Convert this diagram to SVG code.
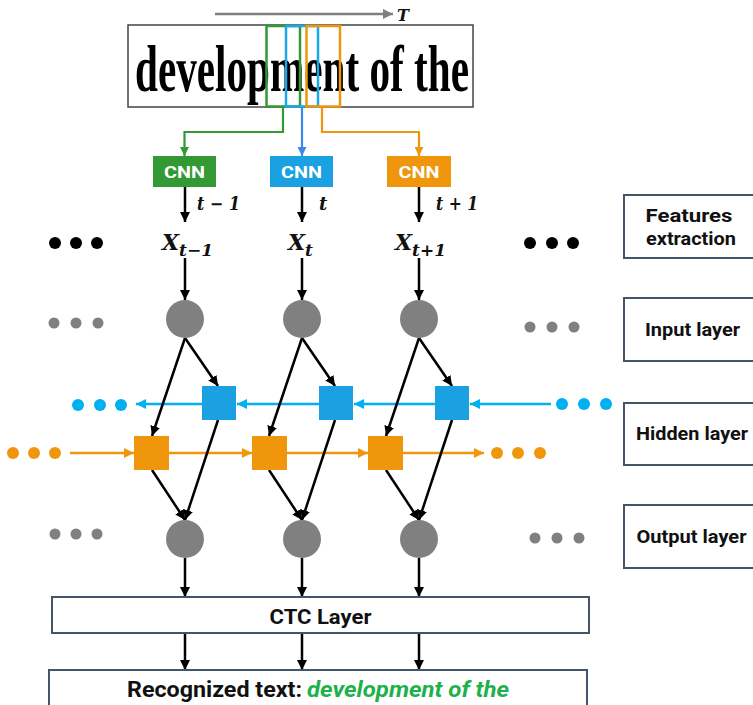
<svg xmlns="http://www.w3.org/2000/svg" width="753" height="705" viewBox="0 0 753 705">
<style>
.blk{stroke:#000;stroke-width:2.5;fill:none;marker-end:url(#ab)}
.bl{stroke:#00b0f0;stroke-width:2.5;fill:none;marker-end:url(#abl)}
.or{stroke:#f0960c;stroke-width:2.5;fill:none;marker-end:url(#aor)}
.lbl{fill:#fff;stroke:#44546a;stroke-width:2}
.sans{font-family:Roboto,"Liberation Sans",sans-serif;font-weight:bold}
.rt{font-family:Roboto,"Liberation Sans",sans-serif;font-weight:bold;font-size:19px;fill:#111}
.math{font-family:"DejaVu Serif","Liberation Serif",serif;font-weight:bold;font-style:italic;fill:#111}
.cnn{font-family:Roboto,"Liberation Sans",sans-serif;font-weight:bold;font-size:17px;fill:#fff}
.gc{fill:#808080}
.bsq{fill:#1ba1e2}
.osq{fill:#f0960c}
</style>
<defs>
<marker id="ab" viewBox="0 0 10 10" refX="10" refY="5" markerWidth="10" markerHeight="10" markerUnits="userSpaceOnUse" orient="auto"><path d="M0,0 L10,5 L0,10 z" fill="#000"/></marker>
<marker id="abl" viewBox="0 0 10 10" refX="10" refY="5" markerWidth="10" markerHeight="10" markerUnits="userSpaceOnUse" orient="auto"><path d="M0,0 L10,5 L0,10 z" fill="#00b0f0"/></marker>
<marker id="aor" viewBox="0 0 10 10" refX="10" refY="5" markerWidth="10" markerHeight="10" markerUnits="userSpaceOnUse" orient="auto"><path d="M0,0 L10,5 L0,10 z" fill="#f0960c"/></marker>
<marker id="agr" viewBox="0 0 10 10" refX="10" refY="5" markerWidth="10" markerHeight="10" markerUnits="userSpaceOnUse" orient="auto"><path d="M0,0 L10,5 L0,10 z" fill="#808080"/></marker>
<marker id="agn" viewBox="0 0 10 10" refX="10" refY="5" markerWidth="9" markerHeight="9" markerUnits="userSpaceOnUse" orient="auto"><path d="M0,0 L10,5 L0,10 z" fill="#339933"/></marker>
<marker id="abu" viewBox="0 0 10 10" refX="10" refY="5" markerWidth="9" markerHeight="9" markerUnits="userSpaceOnUse" orient="auto"><path d="M0,0 L10,5 L0,10 z" fill="#3c86ee"/></marker>
<marker id="aog" viewBox="0 0 10 10" refX="10" refY="5" markerWidth="9" markerHeight="9" markerUnits="userSpaceOnUse" orient="auto"><path d="M0,0 L10,5 L0,10 z" fill="#f0960c"/></marker>
</defs>

<g id="time-axis">
<line x1="215" y1="14" x2="393" y2="14" stroke="#808080" stroke-width="2.5" marker-end="url(#agr)"/>
<text x="397" y="21" class="math" font-size="16">T</text>
</g>

<g id="input-image">
<rect x="128" y="25" width="345" height="82" fill="#fff" stroke="#444" stroke-width="1.5"/>
<text x="135" y="91" font-family="Liberation Serif,serif" font-weight="bold" font-size="66" textLength="334" lengthAdjust="spacingAndGlyphs" fill="#000">development of the</text>
<rect x="266.5" y="26" width="33.5" height="80.5" fill="none" stroke="#339933" stroke-width="2.5"/>
<rect x="286" y="26" width="32" height="80.5" fill="none" stroke="#1ea7e8" stroke-width="2.5"/>
<rect x="306.5" y="26" width="33.5" height="80.5" fill="none" stroke="#f0960c" stroke-width="2.5"/>
</g>

<g id="cnn1"><rect x="153" y="156" width="63" height="31" fill="#339933"/><text x="184.5" y="177.5" class="cnn" text-anchor="middle" textLength="41" lengthAdjust="spacingAndGlyphs">CNN</text></g>
<g id="cnn2"><rect x="270" y="156" width="63" height="31" fill="#1ba1e2"/><text x="301.5" y="177.5" class="cnn" text-anchor="middle" textLength="41" lengthAdjust="spacingAndGlyphs">CNN</text></g>
<g id="cnn3"><rect x="387" y="156" width="64" height="31" fill="#f0960c"/><text x="419" y="177.5" class="cnn" text-anchor="middle" textLength="41" lengthAdjust="spacingAndGlyphs">CNN</text></g>

<g id="labels-t">
<text x="197" y="210" class="math" font-size="18" textLength="43" lengthAdjust="spacingAndGlyphs">t − 1</text>
<text x="319" y="210" class="math" font-size="18">t</text>
<text x="436" y="210" class="math" font-size="18" textLength="42" lengthAdjust="spacingAndGlyphs">t + 1</text>
</g>

<g id="x1"><text x="162" y="250" class="math" font-size="22">X<tspan font-size="17" dy="6">t−1</tspan></text></g>
<g id="x2"><text x="288" y="250" class="math" font-size="22">X<tspan font-size="17" dy="6">t</tspan></text></g>
<g id="x3"><text x="395" y="250" class="math" font-size="22">X<tspan font-size="17" dy="6">t+1</tspan></text></g>

<g id="dots">
<circle cx="55" cy="243" r="6"/><circle cx="76" cy="243" r="6"/><circle cx="97" cy="243" r="6"/>
<circle cx="530" cy="243" r="6"/><circle cx="552" cy="243" r="6"/><circle cx="573" cy="243" r="6"/>
<g class="gc"><circle cx="54" cy="323" r="5.5"/><circle cx="76" cy="323" r="5.5"/><circle cx="98" cy="323" r="5.5"/>
<circle cx="530" cy="327" r="5.5"/><circle cx="552" cy="327" r="5.5"/><circle cx="574" cy="327" r="5.5"/>
<circle cx="55" cy="534" r="5.5"/><circle cx="76" cy="534" r="5.5"/><circle cx="97" cy="534" r="5.5"/>
<circle cx="535" cy="538" r="5.5"/><circle cx="557" cy="538" r="5.5"/><circle cx="579" cy="538" r="5.5"/></g>
<g fill="#00b0f0"><circle cx="78" cy="405" r="6"/><circle cx="100" cy="405" r="6"/><circle cx="121" cy="405" r="6"/>
<circle cx="562" cy="404" r="6"/><circle cx="584" cy="404" r="6"/><circle cx="606" cy="404" r="6"/></g>
<g fill="#f0960c"><circle cx="13" cy="453" r="6"/><circle cx="34" cy="453" r="6"/><circle cx="55" cy="453" r="6"/>
<circle cx="497" cy="453" r="6"/><circle cx="518" cy="453" r="6"/><circle cx="540" cy="453" r="6"/></g>
</g>

<g id="connectors">
<path d="M283,107 V132 H184.5 V156" fill="none" stroke="#339933" stroke-width="2.2" marker-end="url(#agn)"/>
<path d="M302,107 V156" fill="none" stroke="#3c86ee" stroke-width="2.2" marker-end="url(#abu)"/>
<path d="M322,107 V132 H419 V156" fill="none" stroke="#f0960c" stroke-width="2.2" marker-end="url(#aog)"/>
<line class="blk" x1="185" y1="187" x2="185" y2="222"/>
<line class="blk" x1="302" y1="187" x2="302" y2="222"/>
<line class="blk" x1="419" y1="187" x2="419" y2="222"/>
<line class="blk" x1="185" y1="258" x2="185" y2="300"/>
<line class="blk" x1="302" y1="258" x2="302" y2="300"/>
<line class="blk" x1="419" y1="258" x2="419" y2="300"/>
<line class="bl" x1="551" y1="404" x2="470" y2="404"/>
<line class="bl" x1="435" y1="404" x2="354" y2="404"/>
<line class="bl" x1="319" y1="404" x2="237" y2="404"/>
<line class="bl" x1="202" y1="404" x2="136" y2="404"/>
<line class="or" x1="70" y1="453" x2="134" y2="453"/>
<line class="or" x1="169" y1="453" x2="252" y2="453"/>
<line class="or" x1="287" y1="453" x2="368" y2="453"/>
<line class="or" x1="403" y1="453" x2="484" y2="453"/>
<line class="blk" x1="185" y1="338" x2="152" y2="436"/>
<line class="blk" x1="185" y1="338" x2="218" y2="386"/>
<line class="blk" x1="152" y1="470" x2="185" y2="520"/>
<line class="blk" x1="218" y1="420" x2="185" y2="520"/>
<line class="blk" x1="302" y1="338" x2="269" y2="436"/>
<line class="blk" x1="302" y1="338" x2="335" y2="386"/>
<line class="blk" x1="269" y1="470" x2="302" y2="520"/>
<line class="blk" x1="335" y1="420" x2="302" y2="520"/>
<line class="blk" x1="419" y1="338" x2="386" y2="436"/>
<line class="blk" x1="419" y1="338" x2="452" y2="386"/>
<line class="blk" x1="386" y1="470" x2="419" y2="520"/>
<line class="blk" x1="452" y1="420" x2="419" y2="520"/>
<line class="blk" x1="185" y1="558" x2="185" y2="597"/>
<line class="blk" x1="302" y1="558" x2="302" y2="597"/>
<line class="blk" x1="419" y1="558" x2="419" y2="597"/>
<line class="blk" x1="185" y1="633" x2="185" y2="670"/>
<line class="blk" x1="302" y1="633" x2="302" y2="670"/>
<line class="blk" x1="419" y1="633" x2="419" y2="670"/>
</g>

<g id="input-nodes" class="gc">
<circle cx="185" cy="319" r="19"/><circle cx="302" cy="319" r="19"/><circle cx="419" cy="319" r="19"/>
</g>
<g id="backward-nodes" class="bsq">
<rect x="202" y="386" width="34" height="34"/><rect x="319" y="386" width="34" height="34"/><rect x="435" y="386" width="34" height="34"/>
</g>
<g id="forward-nodes" class="osq">
<rect x="134" y="436" width="35" height="34"/><rect x="252" y="436" width="35" height="34"/><rect x="368" y="436" width="35" height="34"/>
</g>
<g id="output-nodes" class="gc">
<circle cx="185" cy="539" r="19"/><circle cx="302" cy="539" r="19"/><circle cx="419" cy="539" r="19"/>
</g>

<g id="ctc-layer">
<rect x="52" y="597" width="537" height="36" class="lbl"/>
<text x="320.5" y="624" class="sans" font-size="21" text-anchor="middle" textLength="102" lengthAdjust="spacingAndGlyphs" fill="#111">CTC Layer</text>
</g>
<g id="recognized">
<rect x="49" y="670" width="538" height="45" class="lbl"/>
<text x="127" y="697" class="sans" font-size="22" textLength="175" lengthAdjust="spacingAndGlyphs" fill="#111">Recognized text:</text>
<text x="307" y="697" class="sans" font-size="22" font-style="italic" textLength="202" lengthAdjust="spacingAndGlyphs" fill="#1db04b">development of the</text>
</g>

<g id="features-label"><rect x="624" y="195" width="140" height="63" class="lbl"/>
<text x="689" y="222" class="rt" text-anchor="middle" textLength="87" lengthAdjust="spacingAndGlyphs">Features</text>
<text x="691" y="245" class="rt" text-anchor="middle" textLength="90" lengthAdjust="spacingAndGlyphs">extraction</text></g>
<g id="input-label"><rect x="624" y="298" width="140" height="63" class="lbl"/>
<text x="692.5" y="336" class="rt" text-anchor="middle" textLength="95" lengthAdjust="spacingAndGlyphs">Input layer</text></g>
<g id="hidden-label"><rect x="624" y="403" width="140" height="62" class="lbl"/>
<text x="692" y="440" class="rt" text-anchor="middle" textLength="112" lengthAdjust="spacingAndGlyphs">Hidden layer</text></g>
<g id="output-label"><rect x="624" y="505" width="140" height="63" class="lbl"/>
<text x="691.5" y="543" class="rt" text-anchor="middle" textLength="110" lengthAdjust="spacingAndGlyphs">Output layer</text></g>
</svg>
